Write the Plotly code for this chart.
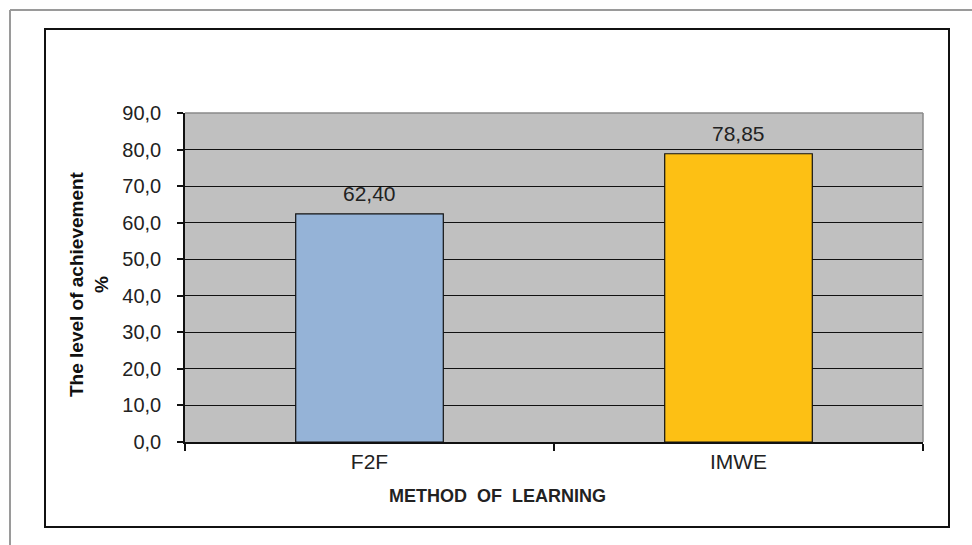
import plotly.graph_objects as go

categories = ["F2F", "IMWE"]
values = [62.40, 78.85]
value_labels = ["62,40", "78,85"]
bar_colors = ["#95B3D7", "#FDC014"]
y_ticks = [0, 10, 20, 30, 40, 50, 60, 70, 80, 90]

W, H = 972, 545
L, R, T, B = 185, 923, 113, 442  # plot area pixel bounds


def px(x):
    return (x - L) / (R - L)


def py(y):
    return (B - y) / (B - T)


fig = go.Figure()
fig.add_trace(go.Bar(
    x=categories, y=values,
    marker=dict(color=bar_colors, line=dict(color="#111111", width=1.2)),
    width=0.4, hoverinfo="skip",
))

for c, v, t in zip(categories, values, value_labels):
    fig.add_annotation(x=c, y=v, text=t, showarrow=False, yanchor="bottom",
                       yshift=7, font=dict(size=21, color="#222222"))

# axis titles
fig.add_annotation(xref="paper", yref="paper", x=px(89), y=py(284),
                   text="<b>The level of achievement</b><br><b>%</b>",
                   textangle=-90, showarrow=False, xanchor="center", yanchor="middle",
                   font=dict(size=19, color="#111111"))
fig.add_annotation(xref="paper", yref="paper", x=px(497), y=py(496),
                   text="<b>METHOD\u00a0 OF\u00a0 LEARNING</b>", showarrow=False,
                   xanchor="center", yanchor="middle",
                   font=dict(size=18, color="#222222"))

shapes = [
    # outer gray frame (top and left)
    dict(type="line", xref="paper", yref="paper", x0=px(10), x1=px(975), y0=py(10), y1=py(10),
         line=dict(color="#9a9a9a", width=2)),
    dict(type="line", xref="paper", yref="paper", x0=px(10), x1=px(10), y0=py(10), y1=py(548),
         line=dict(color="#9a9a9a", width=2)),
    # inner black frame
    dict(type="rect", xref="paper", yref="paper", x0=px(45), x1=px(949), y0=py(29), y1=py(527),
         line=dict(color="#111111", width=2)),
    # plot area top and right borders (gray)
    dict(type="line", xref="paper", yref="paper", x0=0, x1=1, y0=1, y1=1,
         line=dict(color="#8a8a8a", width=1.5)),
    dict(type="line", xref="paper", yref="paper", x0=1, x1=1, y0=0, y1=1,
         line=dict(color="#8a8a8a", width=1.5)),
]

fig.update_layout(
    width=W, height=H,
    margin=dict(l=L, r=W - R, t=T, b=H - B),
    paper_bgcolor="white", plot_bgcolor="#C0C0C0",
    font=dict(family="Liberation Sans, Arial, sans-serif", color="#222222"),
    separators=", ",
    showlegend=False,
    shapes=shapes,
    bargap=0.6,
)
fig.update_yaxes(
    range=[0, 90], tickvals=y_ticks, tickformat=".1f",
    showgrid=True, gridcolor="#111111", gridwidth=1.2,
    showline=True, linecolor="#111111", linewidth=1.5,
    ticks="outside", ticklen=6, tickcolor="#111111", tickwidth=1.5,
    ticklabelstandoff=12,
    tickfont=dict(size=20, color="#222222"), zeroline=False, fixedrange=True,
)
fig.update_xaxes(
    showline=True, linecolor="#111111", linewidth=1.5,
    ticks="outside", tickson="boundaries", ticklen=7, tickcolor="#111111", tickwidth=1.5,
    tickfont=dict(size=21, color="#222222"), showgrid=False, fixedrange=True,
)

fig.write_html("out.html")
